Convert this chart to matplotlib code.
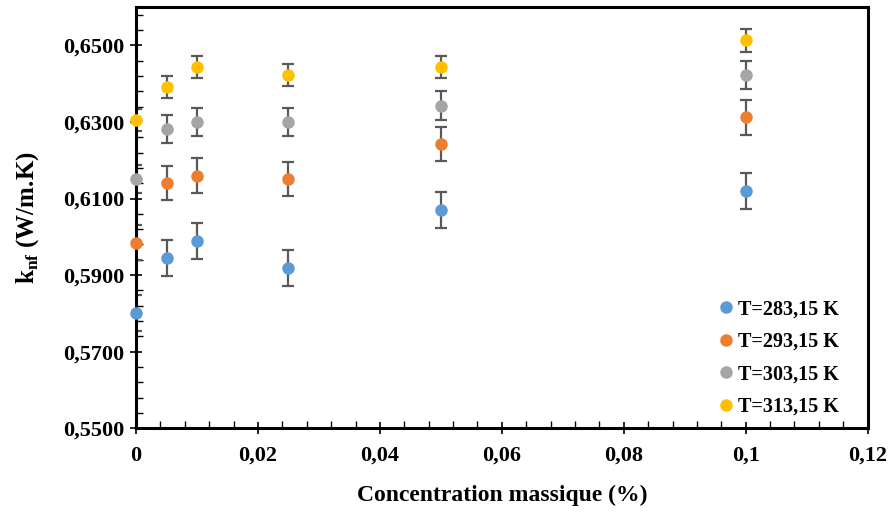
import matplotlib.pyplot as plt
from matplotlib.lines import Line2D
from matplotlib.ticker import MultipleLocator, FuncFormatter

plt.rcParams['font.family'] = ['Liberation Serif', 'DejaVu Serif']
plt.rcParams['font.weight'] = 'bold'
plt.rcParams['mathtext.fontset'] = 'custom'
plt.rcParams['mathtext.rm'] = 'Liberation Serif:bold'
plt.rcParams['mathtext.bf'] = 'Liberation Serif:bold'

# mass concentration (%)
concentration = [0, 0.005, 0.01, 0.025, 0.05, 0.1]

# thermal conductivity k_nf (W/m.K) per temperature
k_283 = [0.5800, 0.5944, 0.5989, 0.5919, 0.6071, 0.6119]
k_293 = [0.5985, 0.6141, 0.6160, 0.6151, 0.6242, 0.6312]
k_303 = [0.6151, 0.6282, 0.6300, 0.6300, 0.6343, 0.6422]
k_313 = [0.6306, 0.6392, 0.6443, 0.6422, 0.6443, 0.6513]

# error bar half-widths
err_283 = 0.0047
err_293 = 0.0045
err_303 = 0.0037
err_313 = 0.0029

labels = ['T=283,15 K', 'T=293,15 K', 'T=303,15 K', 'T=313,15 K']
colors = ['#5B9BD5', '#ED7D31', '#A5A5A5', '#FFC000']

fig = plt.figure(figsize=(8.89, 5.14), dpi=100)
ax = fig.add_axes([0.153, 0.167, 0.823, 0.819])

series = [(k_283, err_283), (k_293, err_293), (k_303, err_303), (k_313, err_313)]
for (vals, err), col in zip(series, colors):
    ax.errorbar(concentration, vals, yerr=err, fmt='none', ecolor='#595959',
                elinewidth=1.6, capsize=4, capthick=1.6, zorder=2)
    ax.plot(concentration, vals, 'o', color=col, markersize=8, zorder=4, clip_on=False)

ax.set_xlim(0, 0.12)
ax.set_ylim(0.55, 0.66)
ax.xaxis.set_major_locator(MultipleLocator(0.02))
ax.xaxis.set_minor_locator(MultipleLocator(0.004))
ax.yaxis.set_major_locator(MultipleLocator(0.02, offset=0.01))
ax.yaxis.set_minor_locator(MultipleLocator(0.004, offset=0.002))
ax.xaxis.set_major_formatter(FuncFormatter(lambda v, p: f'{v:g}'.replace('.', ',')))
ax.yaxis.set_major_formatter(FuncFormatter(lambda v, p: f'{v:.4f}'.replace('.', ',')))

ax.tick_params(which='major', direction='inout', length=9, width=1.2, labelsize=16, pad=4)
ax.tick_params(which='minor', direction='in', length=5, width=1.0)
ax.tick_params(axis='x', which='major', pad=8)
for sp in ax.spines.values():
    sp.set_linewidth(2.2)

ax.set_xlabel('Concentration massique (%)', fontsize=17, fontweight='bold', labelpad=14)
ax.set_ylabel(r'k$_{\mathrm{nf}}$ (W/m.K)', fontsize=18, fontweight='bold', labelpad=16)

handles = [Line2D([], [], marker='o', linestyle='none', color=c, markersize=8) for c in colors]
ax.legend(handles, labels, loc='lower right', frameon=False, fontsize=14.5,
          handlelength=1.0, handletextpad=0.1, labelspacing=0.62,
          borderaxespad=0.3, bbox_to_anchor=(0.98, -0.006))

fig.savefig('out.png', dpi=100)
